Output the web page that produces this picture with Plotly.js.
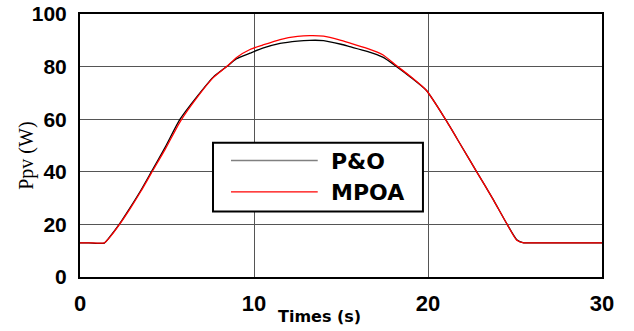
<!DOCTYPE html>
<html>
<head>
<meta charset="utf-8">
<script src="https://cdn.plot.ly/plotly-3.0.1.min.js"></script>
<style>html,body{margin:0;padding:0;background:#fff;}#chart{width:634px;height:331px;}</style>
</head>
<body>
<div id="chart"></div>
<script>
// Time (s)
var timeS = [0,0.5,1,1.4,1.8,2.25,2.9,3.5,4.1,4.9,5.75,6.7,7.66,8.43,9,9.77,10.5,11.5,12.5,13.2,14,15,15.5,16.5,17.4,18.2,19,19.9,21,21.9,22.8,23.7,24.55,25.1,25.5,26,27,28,29,30];
// P&O power (W)
var ppvPO = [13,13,12.8,12.9,16,20,26.6,33,40,49.4,60,68.4,76,80,83,85.1,87,88.8,89.7,90,89.9,88.5,87.6,85.8,83.6,80,76,71,60,50,40,30,20,14.2,13,13,13,13,13,13];
// MPOA power (W)
var ppvMPOA = [13,13,12.9,13,15.8,19.8,26.2,32.6,39.5,48.6,59,68,75.8,80,83.5,86.5,88.2,90.3,91.5,91.8,91.6,90,89,86.9,84.5,80.3,76.2,71,60,50,40,30,20,14,13,13,13,13,13,13];
var xTicks = [0,10,20,30];
var yTicks = [0,20,40,60,80,100];
var seriesNames = ['P&O','MPOA'];

var boldFont = 'DejaVu Sans';
function b(s){ return '<b>' + s + '</b>'; }

var traces = [
  {x: timeS, y: ppvPO, type: 'scatter', mode: 'lines', name: seriesNames[0],
   line: {color: '#000000', width: 1.3, shape: 'spline', smoothing: 0.6}},
  {x: timeS, y: ppvMPOA, type: 'scatter', mode: 'lines', name: seriesNames[1],
   line: {color: '#ff0000', width: 1.3, shape: 'spline', smoothing: 0.6}}
];

var layout = {
  width: 634, height: 331,
  margin: {l: 80, r: 32, t: 14, b: 54, pad: 0},
  paper_bgcolor: '#ffffff', plot_bgcolor: '#ffffff',
  showlegend: false,
  font: {family: 'Liberation Sans', weight: 'bold'},
  xaxis: {
    range: [0, 30], tickvals: xTicks, ticktext: xTicks.map(function(v){return b(v);}),
    showgrid: true, gridcolor: '#555555', gridwidth: 1,
    zeroline: false, showline: true, mirror: true, linecolor: '#000000', linewidth: 2,
    ticks: '', ticklabelstandoff: 6,
    tickfont: {family: 'Liberation Sans', size: 22, color: '#000000', weight: 'bold'}
  },
  yaxis: {
    range: [0, 100], tickvals: yTicks, ticktext: yTicks.map(function(v){return b(v);}),
    showgrid: true, gridcolor: '#555555', gridwidth: 1,
    zeroline: false, showline: true, mirror: true, linecolor: '#000000', linewidth: 2,
    ticks: '', ticklabelstandoff: 7,
    tickfont: {family: 'Liberation Sans', size: 21, color: '#000000', weight: 'bold'}
  },
  shapes: [
    {type: 'rect', xref: 'paper', yref: 'paper', x0: 0.2548, x1: 0.657, y0: 0.2486, y1: 0.5104,
     fillcolor: '#ffffff', line: {color: '#000000', width: 2}, layer: 'above'},
    {type: 'line', xref: 'paper', yref: 'paper', x0: 0.2893, x1: 0.4554, y0: 0.4433, y1: 0.4433,
     line: {color: '#808080', width: 1.5}, layer: 'above'},
    {type: 'line', xref: 'paper', yref: 'paper', x0: 0.2893, x1: 0.4554, y0: 0.3233, y1: 0.3233,
     line: {color: '#ff0000', width: 1.2}, layer: 'above'}
  ],
  annotations: [
    {text: b(seriesNames[0]), xref: 'paper', yref: 'paper', x: 0.477, y: 0.438, xanchor: 'left', yanchor: 'middle',
     showarrow: false, font: {family: boldFont, size: 22, color: '#000000'}},
    {text: b(seriesNames[1]), xref: 'paper', yref: 'paper', x: 0.477, y: 0.3207, xanchor: 'left', yanchor: 'middle',
     showarrow: false, font: {family: boldFont, size: 22, color: '#000000'}},
    {text: b('Times (s)'), xref: 'paper', yref: 'paper', x: 0.459, y: -0.15, xanchor: 'center', yanchor: 'middle',
     showarrow: false, font: {family: boldFont, size: 16, color: '#000000'}},
    {text: 'Ppv (W)', xref: 'paper', yref: 'paper', x: -0.1015, y: 0.461, xanchor: 'center', yanchor: 'middle',
     textangle: -90, showarrow: false, font: {family: 'Liberation Serif', size: 20, color: '#000000', weight: 'normal'}}
  ]
};

Plotly.newPlot('chart', traces, layout, {displayModeBar: false, staticPlot: true});
</script>
</body>
</html>
